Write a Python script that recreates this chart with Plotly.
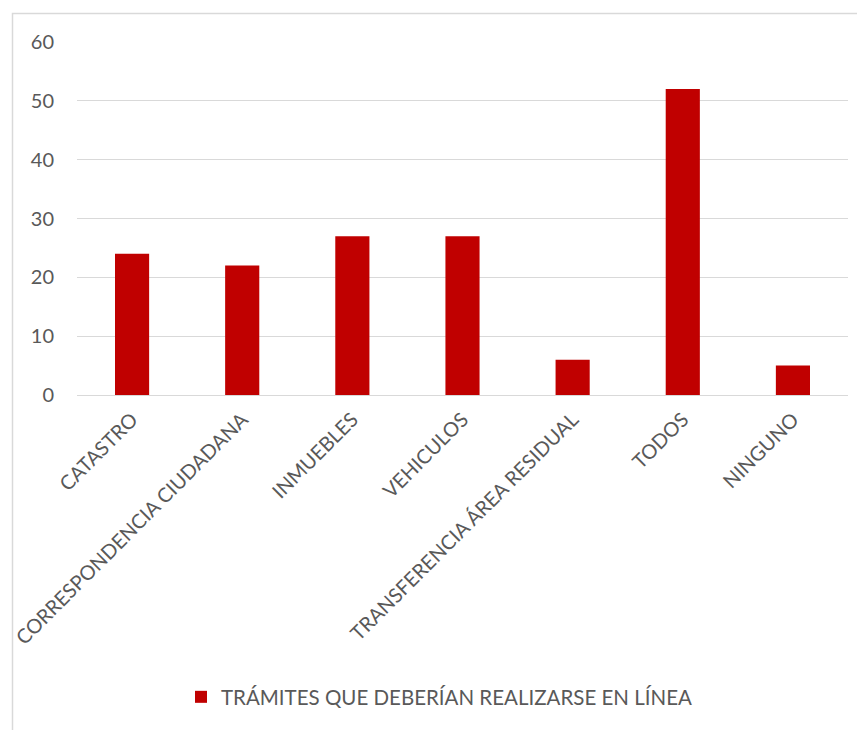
import plotly.graph_objects as go

categories = ["CATASTRO", "CORRESPONDENCIA CIUDADANA", "INMUEBLES", "VEHICULOS",
              "TRANSFERENCIA ÁREA RESIDUAL", "TODOS", "NINGUNO"]
values = [24, 22, 27, 27, 6, 52, 5]
series_name = "TRÁMITES QUE DEBERÍAN REALIZARSE EN LÍNEA"
y_ticks = [0, 10, 20, 30, 40, 50, 60]

OFF = 8  # page body margin
W, H = 865 - OFF, 730 - OFF
L, R, T, B = 77 - OFF, 17, 42 - OFF, 335
pw, ph = W - L - R, H - T - B

def px_x(x):
    return (x - OFF - L) / pw

def px_y(y):
    return (H - B - (y - OFF)) / ph

FONT = "Lato"
TXT = "#595959"
GRID = "#D9D9D9"

fig = go.Figure()
fig.add_trace(go.Bar(x=categories, y=values, name=series_name,
                     marker=dict(color="#C00000", line=dict(width=0))))

fig.update_layout(
    width=W, height=H,
    margin=dict(l=L, r=R, t=T, b=B),
    paper_bgcolor="white", plot_bgcolor="white",
    bargap=0.69,
    font=dict(family=FONT, color=TXT, size=20),
    showlegend=True,
    legend=dict(orientation="h", x=px_x(439), y=px_y(697), xanchor="center", yanchor="middle",
                font=dict(family=FONT, size=20.5, color=TXT)),
    xaxis=dict(tickangle=-45, showgrid=False, showline=False, zeroline=False, automargin=False,
               tickfont=dict(family=FONT, size=20, color=TXT), ticklabelstandoff=8),
    yaxis=dict(range=[0, 60], tickvals=y_ticks, showgrid=True, gridcolor=GRID, gridwidth=1.3,
               zeroline=True, zerolinecolor=GRID, zerolinewidth=1.3, showline=False, automargin=False,
               tickfont=dict(family=FONT, size=20, color=TXT), ticklabelstandoff=22),
    shapes=[dict(type="rect", xref="paper", yref="paper",
                 x0=px_x(12.5), x1=px_x(890), y0=px_y(760), y1=px_y(13.5),
                 line=dict(color=GRID, width=1.5), fillcolor="rgba(0,0,0,0)", layer="below")],
)

fig.write_html("out.html")
